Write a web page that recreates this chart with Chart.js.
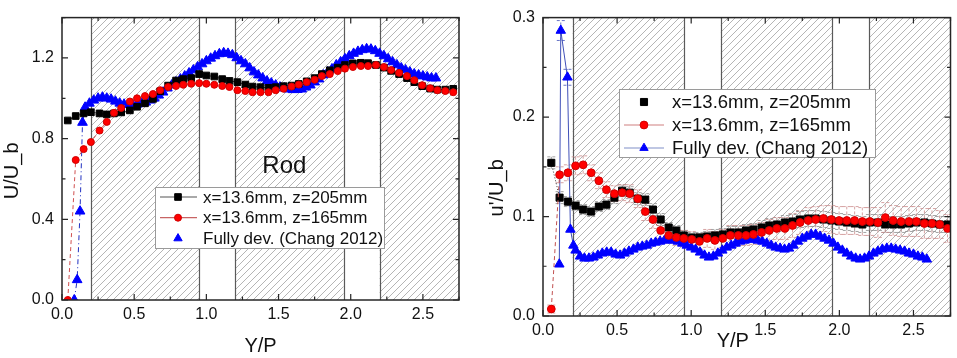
<!DOCTYPE html>
<html>
<head>
<meta charset="utf-8">
<script src="https://cdn.jsdelivr.net/npm/chart.js@4/dist/chart.umd.min.js"></script>
<style>
  html, body { margin: 0; padding: 0; background: #fff; }
  body { width: 957px; height: 358px; overflow: hidden; position: relative; }
  canvas { position: absolute; top: 0; }
</style>
</head>
<body>
<canvas id="leftChart" width="480" height="358" style="left:0px"></canvas>
<canvas id="rightChart" width="477" height="358" style="left:480px"></canvas>
<script>
// ---------------- DATA ----------------
const seriesLabels = ['x=13.6mm, z=205mm', 'x=13.6mm, z=165mm', 'Fully dev. (Chang 2012)'];
const xTickValues = [0, 0.5, 1.0, 1.5, 2.0, 2.5];
const meanYTickValues = [0, 0.4, 0.8, 1.2];
const rmsYTickValues = [0, 0.1, 0.2, 0.3];
const hatchStart = [0.2, 1.2, 2.2];
const hatchEnd = [0.95, 1.95, 2.75];

// Left panel: mean velocity U/U_b
const meanX = [0.04,0.095,0.15,0.20,0.26,0.31,0.36,0.41,0.47,0.52,0.575,0.63,0.68,0.735,0.79,0.84,0.895,0.95,1.0,1.055,
  1.11,1.16,1.215,1.27,1.32,1.375,1.43,1.48,1.535,1.59,1.64,1.695,1.75,1.80,1.855,1.91,1.96,2.015,2.07,2.12,
  2.175,2.23,2.28,2.335,2.39,2.44,2.495,2.55,2.60,2.655,2.71];
const meanBlackY = [0.89,0.912,0.925,0.931,0.925,0.92,0.925,0.93,0.94,0.958,0.975,0.997,1.035,1.063,1.088,1.095,1.10,1.12,1.113,1.108,
  1.095,1.086,1.08,1.068,1.058,1.055,1.052,1.055,1.06,1.063,1.071,1.084,1.10,1.12,1.139,1.152,1.165,1.173,1.176,1.174,
  1.165,1.152,1.136,1.12,1.10,1.08,1.06,1.048,1.043,1.043,1.047];
const meanRedY = [0.0,0.694,0.748,0.783,0.84,0.883,0.928,0.952,0.984,1.0,1.011,1.021,1.04,1.056,1.061,1.067,1.072,1.075,1.072,1.067,
  1.061,1.056,1.04,1.036,1.03,1.03,1.03,1.04,1.047,1.058,1.068,1.08,1.092,1.11,1.12,1.135,1.147,1.155,1.16,1.16,
  1.165,1.155,1.14,1.126,1.11,1.09,1.065,1.05,1.04,1.036,1.03];
const meanBlueX = [0.085,0.105,0.125,0.142,
  0.16,0.19,0.22,0.25,0.28,0.31,0.34,0.37,0.40,0.43,
  0.46,0.49,0.52,0.55,0.58,0.61,0.64,0.67,0.70,0.73,
  0.76,0.79,0.82,0.85,0.88,0.91,0.94,0.97,1.00,1.03,
  1.06,1.09,1.12,1.15,1.18,1.21,1.24,1.27,1.30,1.33,
  1.36,1.39,1.42,1.45,1.48,1.51,1.54,1.57,1.60,1.63,
  1.66,1.69,1.72,1.75,1.78,1.81,1.84,1.87,1.90,1.93,
  1.96,1.99,2.02,2.05,2.08,2.11,2.14,2.17,2.20,2.23,
  2.26,2.29,2.32,2.35,2.38,2.41,2.44,2.47,2.50,2.53,
  2.56,2.59];
const meanBlueY = [0.0,0.10,0.44,0.88,
  0.955,0.975,0.99,1.0,1.005,1.0,0.995,0.985,0.975,0.97,
  0.968,0.968,0.97,0.975,0.98,0.99,1.0,1.015,1.03,1.05,
  1.065,1.08,1.095,1.11,1.125,1.14,1.155,1.17,1.185,1.198,
  1.21,1.22,1.225,1.222,1.215,1.2,1.185,1.17,1.15,1.13,
  1.115,1.1,1.085,1.075,1.065,1.055,1.05,1.045,1.042,1.043,
  1.045,1.055,1.065,1.08,1.095,1.115,1.13,1.145,1.165,1.18,
  1.195,1.21,1.222,1.232,1.24,1.245,1.243,1.235,1.222,1.21,
  1.195,1.18,1.165,1.15,1.14,1.13,1.12,1.115,1.11,1.105,
  1.1,1.1];

// Right panel: rms u'/U_b
const rmsX = [0.056,0.112,0.168,0.22,0.271,0.325,0.377,0.428,0.482,0.534,0.585,0.639,0.69,0.742,0.794,0.848,0.9,0.95,1.004,1.056,
  1.108,1.16,1.213,1.265,1.318,1.37,1.42,1.475,1.527,1.578,1.632,1.684,1.735,1.79,1.84,1.892,1.946,1.998,2.05,2.103,
  2.155,2.206,2.26,2.31,2.363,2.417,2.47,2.52,2.574,2.625,2.677,2.73];
const rmsBlackY = [0.154,0.119,0.115,0.111,0.107,0.105,0.11,0.112,0.119,0.126,0.124,0.118,0.117,0.107,0.097,0.089,0.086,0.081,0.079,0.079,
  0.080,0.081,0.082,0.084,0.084,0.086,0.087,0.089,0.091,0.092,0.094,0.095,0.097,0.098,0.098,0.097,0.096,0.095,0.094,0.093,
  0.092,0.094,0.094,0.092,0.092,0.092,0.093,0.094,0.094,0.093,0.092,0.092];
const rmsBlackErr = [0.006,0.006,0.005,0.005,0.005,0.005,0.005,0.005,0.006,0.006,0.006,0.006,0.006,0.006,0.006,0.005,0.005,0.005,0.005,0.005,
  0.005,0.006,0.006,0.006,0.006,0.006,0.006,0.007,0.007,0.007,0.007,0.007,0.008,0.008,0.008,0.008,0.008,0.008,0.008,0.008,
  0.008,0.008,0.008,0.008,0.008,0.008,0.008,0.008,0.008,0.008,0.008,0.008];
const rmsRedY = [0.007,0.142,0.144,0.151,0.152,0.144,0.136,0.127,0.123,0.124,0.123,0.118,0.105,0.097,0.086,0.081,0.079,0.078,0.077,0.075,
  0.078,0.076,0.078,0.081,0.081,0.081,0.082,0.084,0.086,0.088,0.088,0.091,0.094,0.096,0.097,0.098,0.097,0.096,0.096,0.096,
  0.095,0.095,0.094,0.099,0.096,0.095,0.095,0.095,0.093,0.093,0.092,0.088];
const rmsRedErr = [0.004,0.008,0.008,0.009,0.009,0.008,0.008,0.008,0.008,0.008,0.009,0.009,0.009,0.009,0.008,0.008,0.008,0.008,0.008,0.008,
  0.009,0.009,0.009,0.010,0.010,0.010,0.010,0.010,0.011,0.011,0.011,0.012,0.012,0.013,0.013,0.013,0.014,0.014,0.014,0.014,
  0.014,0.014,0.015,0.015,0.015,0.015,0.015,0.015,0.015,0.015,0.014,0.014];
const rmsBlueX = [0.11,0.12,0.165,0.185,0.205,
  0.22,0.25,0.28,0.31,0.34,0.37,0.40,0.43,0.46,0.49,
  0.52,0.55,0.58,0.61,0.64,0.67,0.70,0.73,0.76,0.79,
  0.82,0.85,0.88,0.91,0.94,0.97,1.00,1.03,1.06,1.09,
  1.12,1.15,1.18,1.21,1.24,1.27,1.30,1.33,1.36,1.39,
  1.42,1.45,1.48,1.51,1.54,1.57,1.60,1.63,1.66,1.69,
  1.72,1.75,1.78,1.81,1.84,1.87,1.90,1.93,1.96,1.99,
  2.02,2.05,2.08,2.11,2.14,2.17,2.20,2.23,2.26,2.29,
  2.32,2.35,2.38,2.41,2.44,2.47,2.50,2.53,2.56,2.59];
const rmsBlueY = [0.052,0.287,0.240,0.087,0.071,
  0.066,0.060,0.058,0.058,0.059,0.061,0.063,0.064,0.064,0.062,
  0.061,0.063,0.065,0.067,0.069,0.070,0.071,0.073,0.074,0.075,
  0.076,0.077,0.076,0.075,0.073,0.071,0.069,0.067,0.064,0.061,
  0.059,0.060,0.063,0.066,0.069,0.071,0.073,0.075,0.076,0.077,
  0.077,0.076,0.075,0.073,0.071,0.069,0.068,0.067,0.068,0.071,
  0.075,0.078,0.080,0.082,0.082,0.080,0.078,0.076,0.073,0.069,
  0.066,0.063,0.060,0.058,0.057,0.058,0.060,0.063,0.065,0.067,
  0.068,0.068,0.067,0.066,0.065,0.063,0.062,0.060,0.059,0.057];
const rmsBlueErr = [0, 0.010, 0.008, 0, 0];

// ---------------- HELPERS ----------------
const FONT = "'Liberation Sans', Arial, Helvetica, sans-serif";
Chart.defaults.font.family = FONT;
Chart.defaults.color = '#111';

function pts(xs, ys) { return xs.map((x, i) => ({ x: x, y: ys[i] })); }

const hatchTile = (function () {
  const s = 7, c = document.createElement('canvas');
  c.width = s; c.height = s;
  const g = c.getContext('2d');
  g.strokeStyle = '#a2a2a2'; g.lineWidth = 0.8;
  g.beginPath();
  g.moveTo(0, s); g.lineTo(s, 0);
  g.moveTo(-1, 1); g.lineTo(1, -1);
  g.moveTo(s - 1, s + 1); g.lineTo(s + 1, s - 1);
  g.stroke();
  return c;
})();

function drawMarker(ctx, style, x, y, r, fill, stroke) {
  ctx.beginPath();
  if (style === 'rect') {
    const s = r * Math.SQRT1_2;
    ctx.rect(x - s, y - s, 2 * s, 2 * s);
  } else if (style === 'triangle') {
    ctx.moveTo(x, y - r);
    ctx.lineTo(x + 0.866 * r, y + 0.5 * r);
    ctx.lineTo(x - 0.866 * r, y + 0.5 * r);
    ctx.closePath();
  } else {
    ctx.arc(x, y, r, 0, Math.PI * 2);
  }
  ctx.fillStyle = fill; ctx.fill();
  ctx.strokeStyle = stroke; ctx.lineWidth = 1; ctx.stroke();
}

const panelDecor = {
  id: 'panelDecor',
  beforeDraw(chart, args, o) {
    // shift the library's own axis titles to where the reference places them
    const shifts = o.titleShift || {};
    Object.keys(shifts).forEach(id => {
      const sc = chart.scales[id];
      if (!sc || sc._shiftWrapped) return;
      const orig = sc.drawTitle, d = shifts[id];
      sc.drawTitle = function () {
        this.ctx.save(); this.ctx.translate(d[0], d[1]);
        orig.apply(this, arguments);
        this.ctx.restore();
      };
      sc._shiftWrapped = true;
    });
  },
  beforeDatasetsDraw(chart, args, o) {
    const ctx = chart.ctx, a = chart.chartArea, xs = chart.scales.x, ys = chart.scales.y;
    ctx.save();
    ctx.beginPath(); ctx.rect(a.left, a.top, a.right - a.left, a.bottom - a.top); ctx.clip();
    ctx.fillStyle = ctx.createPattern(hatchTile, 'repeat');
    o.hatchStart.forEach((s, i) => {
      const x0 = xs.getPixelForValue(s), x1 = xs.getPixelForValue(o.hatchEnd[i]);
      ctx.fillRect(x0, a.top, x1 - x0, a.bottom - a.top);
    });
    ctx.strokeStyle = '#5a5a5a'; ctx.lineWidth = 1.2;
    o.hatchStart.concat(o.hatchEnd).forEach(v => {
      const p = Math.round(xs.getPixelForValue(v)) + 0.5;
      ctx.beginPath(); ctx.moveTo(p, a.top); ctx.lineTo(p, a.bottom); ctx.stroke();
    });
    // error bars
    chart.data.datasets.forEach(ds => {
      if (!ds.errorBars) return;
      ctx.strokeStyle = ds.errorColor; ctx.lineWidth = 0.8; ctx.setLineDash([3, 2]);
      ds.data.forEach((p, i) => {
        const e = ds.errorBars[i]; if (!e) return;
        const px = xs.getPixelForValue(p.x), y0 = ys.getPixelForValue(p.y - e), y1 = ys.getPixelForValue(p.y + e);
        ctx.beginPath();
        ctx.moveTo(px, y0); ctx.lineTo(px, y1);
        ctx.moveTo(px - 4, y0); ctx.lineTo(px + 4, y0);
        ctx.moveTo(px - 4, y1); ctx.lineTo(px + 4, y1);
        ctx.stroke();
      });
      ctx.setLineDash([]);
    });
    ctx.restore();
  },
  afterDatasetsDraw(chart, args, o) {
    const ctx = chart.ctx, a = chart.chartArea, xs = chart.scales.x, ys = chart.scales.y;
    ctx.save();
    // frame
    ctx.strokeStyle = '#262626'; ctx.lineWidth = 1.5;
    ctx.strokeRect(a.left, a.top, a.right - a.left, a.bottom - a.top);
    // inward ticks
    ctx.lineWidth = 1.2;
    const isMajor = (v, m) => Math.abs(v / m - Math.round(v / m)) < 1e-6;
    for (let k = 0; ; k++) {
      const v = xs.min + k * o.xMinor; if (v > xs.max + 1e-9) break;
      const len = isMajor(v, o.xMajor) ? 6 : 3.5, px = xs.getPixelForValue(v);
      ctx.beginPath();
      ctx.moveTo(px, a.bottom); ctx.lineTo(px, a.bottom - len);
      ctx.moveTo(px, a.top); ctx.lineTo(px, a.top + len);
      ctx.stroke();
    }
    for (let k = 0; ; k++) {
      const v = ys.min + k * o.yMinor; if (v > ys.max + 1e-9) break;
      const len = isMajor(v, o.yMajor) ? 6 : 3.5, py = ys.getPixelForValue(v);
      ctx.beginPath();
      ctx.moveTo(a.left, py); ctx.lineTo(a.left + len, py);
      ctx.moveTo(a.right, py); ctx.lineTo(a.right - len, py);
      ctx.stroke();
    }
    // annotation text
    if (o.note) {
      ctx.fillStyle = '#111';
      ctx.font = o.note.size + 'px ' + FONT;
      ctx.textAlign = 'center'; ctx.textBaseline = 'middle';
      ctx.fillText(o.note.text, xs.getPixelForValue(o.note.x), ys.getPixelForValue(o.note.y));
    }
    // legend
    const L = o.legend;
    ctx.fillStyle = '#fff'; ctx.fillRect(L.x, L.y, L.w, L.h);
    ctx.strokeStyle = '#9a9a9a'; ctx.lineWidth = 1;
    ctx.strokeRect(L.x + 0.5, L.y + 0.5, L.w, L.h);
    ctx.font = L.size + 'px ' + FONT;
    ctx.textAlign = 'left'; ctx.textBaseline = 'middle';
    chart.data.datasets.forEach((ds, i) => {
      const yy = L.y + L.row0 + i * L.gap;
      if (L.lineColors[i]) {
        ctx.strokeStyle = L.lineColors[i]; ctx.lineWidth = 1.2;
        ctx.beginPath(); ctx.moveTo(L.x + L.line0, yy); ctx.lineTo(L.x + L.line1, yy); ctx.stroke();
      }
      drawMarker(ctx, ds.pointStyle, L.x + L.mark, yy, L.markR[i], ds.pointBackgroundColor, ds.pointBorderColor);
      ctx.fillStyle = '#111';
      ctx.fillText(ds.label, L.x + L.text, yy + 1);
    });
    ctx.restore();
  }
};

function axisX(height, titlePadBottom) {
  return {
    type: 'linear', min: 0, max: 2.75,
    afterBuildTicks: s => { s.ticks = xTickValues.map(v => ({ value: v })); },
    afterFit: s => { s.height = height; },
    grid: { display: false, drawTicks: false },
    border: { display: false },
    ticks: { autoSkip: false, maxRotation: 0, padding: 5, color: '#111', font: { size: 16 }, callback: v => v.toFixed(1) },
    title: { display: true, text: 'Y/P', color: '#111', font: { size: 20, lineHeight: 1 }, padding: { top: 0, bottom: titlePadBottom } }
  };
}
function axisY(max, tickVals, width, title, titlePadTop) {
  return {
    type: 'linear', min: 0, max: max,
    afterBuildTicks: s => { s.ticks = tickVals.map(v => ({ value: v })); },
    afterFit: s => { s.width = width; },
    grid: { display: false, drawTicks: false },
    border: { display: false },
    ticks: { autoSkip: false, padding: 8, color: '#111', font: { size: 16 }, callback: v => v.toFixed(1) },
    title: { display: true, text: title, color: '#111', font: { size: 20, lineHeight: 1 }, padding: { top: titlePadTop, bottom: 0 } }
  };
}

// ---------------- LEFT CHART ----------------
new Chart(document.getElementById('leftChart'), {
  type: 'scatter',
  data: {
    datasets: [
      { label: seriesLabels[0], data: pts(meanX, meanBlackY), order: 2,
        showLine: true, borderColor: '#444', borderWidth: 1,
        pointStyle: 'rect', pointRadius: 4.7, pointBackgroundColor: '#000', pointBorderColor: '#000', pointBorderWidth: 1 },
      { label: seriesLabels[1], data: pts(meanX, meanRedY), order: 1,
        showLine: true, borderColor: '#d05050', borderWidth: 1, borderDash: [4, 3],
        pointStyle: 'circle', pointRadius: 3.5, pointBackgroundColor: '#ff0000', pointBorderColor: '#d00000', pointBorderWidth: 1 },
      { label: seriesLabels[2], data: pts(meanBlueX, meanBlueY), order: 3,
        showLine: true, borderColor: '#2030c0', borderWidth: 1, borderDash: [5, 3, 1, 3],
        pointStyle: 'triangle', pointRadius: 5.6, pointBackgroundColor: '#0000ff', pointBorderColor: '#0000ff', pointBorderWidth: 1 }
    ]
  },
  options: {
    responsive: false, animation: false, devicePixelRatio: 1,
    layout: { padding: { top: 8, right: 21, left: 0, bottom: 0 } },
    scales: { x: axisX(58, 2), y: axisY(1.4, meanYTickValues, 62, 'U/U_b', 2) },
    plugins: {
      legend: { display: false }, tooltip: { enabled: false },
      panelDecor: {
        titleShift: { y: [0, 12] },
        hatchStart: hatchStart, hatchEnd: hatchEnd,
        xMajor: 0.5, xMinor: 0.25, yMajor: 0.4, yMinor: 0.2,
        note: { text: 'Rod', x: 1.54, y: 0.66, size: 24 },
        legend: { x: 155, y: 187, w: 229, h: 61, row0: 10, gap: 20.7, line0: 5, line1: 42, mark: 23, text: 48, size: 17,
          markR: [4.7, 3.5, 4.8], lineColors: ['#555', '#c86464', null] }
      }
    }
  },
  plugins: [panelDecor]
});

// ---------------- RIGHT CHART ----------------
new Chart(document.getElementById('rightChart'), {
  type: 'scatter',
  data: {
    datasets: [
      { label: seriesLabels[0], data: pts(rmsX, rmsBlackY), order: 2,
        showLine: true, borderColor: '#333', borderWidth: 1, borderDash: [1, 2],
        errorBars: rmsBlackErr, errorColor: '#8a8a8a',
        pointStyle: 'rect', pointRadius: 5, pointBackgroundColor: '#000', pointBorderColor: '#000', pointBorderWidth: 1 },
      { label: seriesLabels[1], data: pts(rmsX, rmsRedY), order: 1,
        showLine: true, borderColor: '#c05050', borderWidth: 1, borderDash: [4, 3],
        errorBars: rmsRedErr, errorColor: '#cc8c8c',
        pointStyle: 'circle', pointRadius: 3.9, pointBackgroundColor: '#ff0000', pointBorderColor: '#d00000', pointBorderWidth: 1 },
      { label: seriesLabels[2], data: pts(rmsBlueX, rmsBlueY), order: 3,
        showLine: true, borderColor: '#4050b8', borderWidth: 1,
        errorBars: rmsBlueErr, errorColor: '#4050b8',
        pointStyle: 'triangle', pointRadius: 5.5, pointBackgroundColor: '#0000ff', pointBorderColor: '#0000ff', pointBorderWidth: 1 }
    ]
  },
  options: {
    responsive: false, animation: false, devicePixelRatio: 1,
    layout: { padding: { top: 17, right: 5, left: 0, bottom: 0 } },
    scales: { x: axisX(42, 7), y: axisY(0.3, rmsYTickValues, 63, "u'/U_b", 7) },
    plugins: {
      legend: { display: false }, tooltip: { enabled: false },
      panelDecor: {
        titleShift: { x: [-14, 0], y: [0, 21] },
        hatchStart: hatchStart, hatchEnd: hatchEnd,
        xMajor: 0.5, xMinor: 0.25, yMajor: 0.1, yMinor: 0.05,
        note: null,
        legend: { x: 139, y: 89, w: 256, h: 68, row0: 13, gap: 23, line0: 5, line1: 45, mark: 25, text: 53, size: 18.5,
          markR: [5, 3.9, 4.8], lineColors: [null, '#d08080', '#8090c8'] }
      }
    }
  },
  plugins: [panelDecor]
});
</script>
</body>
</html>
